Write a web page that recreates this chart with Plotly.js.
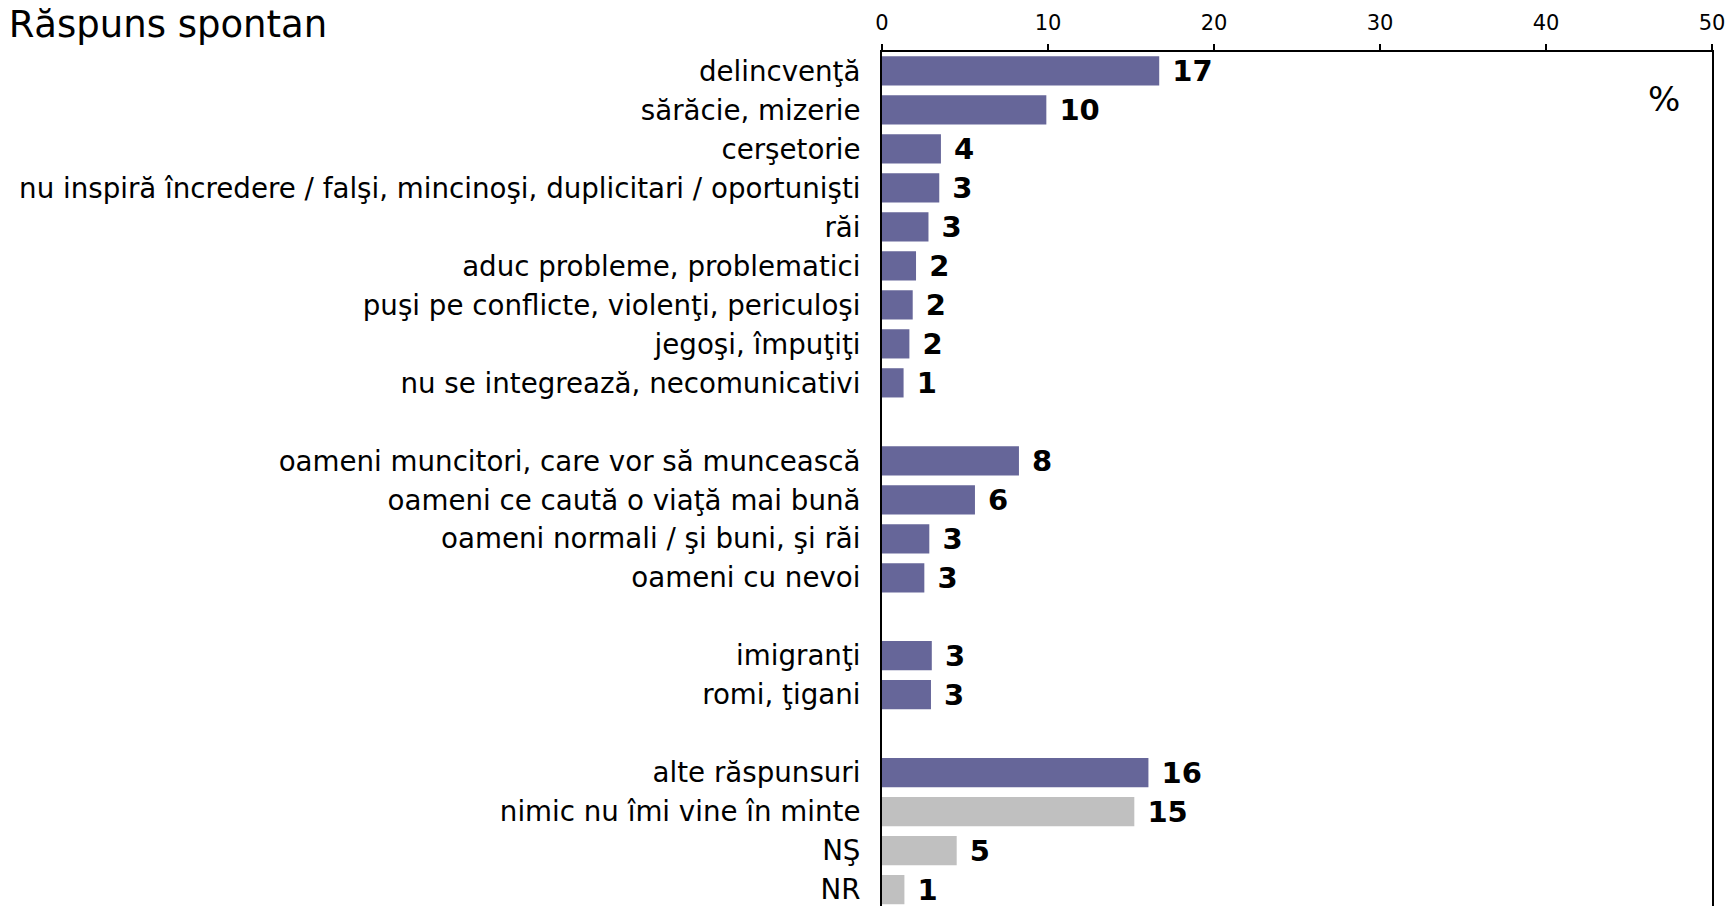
<!DOCTYPE html>
<html>
<head>
<meta charset="utf-8">
<script src="https://cdn.plot.ly/plotly-3.0.1.min.js"></script>
<style>html,body{margin:0;padding:0;background:#fff;}#chart{width:1730px;height:906px;}</style>
</head>
<body>
<div id="chart"></div>
<script>
const titleText = "Răspuns spontan";
const categories = [
  "delincvenţă",
  "sărăcie, mizerie",
  "cerşetorie",
  "nu inspiră încredere / falşi, mincinoşi, duplicitari / oportunişti",
  "răi",
  "aduc probleme, problematici",
  "puşi pe conflicte, violenţi, periculoşi",
  "jegoşi, împuţiţi",
  "nu se integrează, necomunicativi",
  "oameni muncitori, care vor să muncească",
  "oameni ce caută o viaţă mai bună",
  "oameni normali / şi buni, şi răi",
  "oameni cu nevoi",
  "imigranţi",
  "romi, ţigani",
  "alte răspunsuri",
  "nimic nu îmi vine în minte",
  "NŞ",
  "NR"
];
const values = [16.7, 9.9, 3.55, 3.45, 2.8, 2.05, 1.85, 1.65, 1.3, 8.25, 5.6, 2.85, 2.55, 3.0, 2.95, 16.05, 15.2, 4.5, 1.35];
const valueLabels = ["17","10","4","3","3","2","2","2","1","8","6","3","3","3","3","16","15","5","1"];
const groups = [0,0,0,0,0,0,0,0,0,1,1,1,1,2,2,3,3,3,3];
const grayCategories = ["nimic nu îmi vine în minte","NŞ","NR"];
const xTicks = [0,10,20,30,40,50];

// build category order with empty slots between groups
const order = [];
let gapN = 0;
categories.forEach((c, i) => {
  if (i > 0 && groups[i] !== groups[i-1]) { order.push("gap" + (++gapN)); }
  order.push(c);
});

const PURPLE = "#666699", GRAY = "#C0C0C0";
function sel(pred) {
  const y = [], x = [], t = [];
  categories.forEach((c, i) => { if (pred(c)) { y.push(c); x.push(values[i]); t.push(valueLabels[i]); } });
  return {y, x, t};
}
const main = sel(c => !grayCategories.includes(c));
const rest = sel(c => grayCategories.includes(c));

const common = {
  type: "bar", orientation: "h", width: 0.75,
  textposition: "outside", cliponaxis: false, constraintext: "none",
  texttemplate: "\u00a0%{text}",
  textfont: {family: "DejaVu Sans", size: 29, color: "#000", weight: "bold"},
  hoverinfo: "skip", showlegend: false
};
const traces = [
  Object.assign({}, common, {y: main.y, x: main.x, text: main.t, marker: {color: PURPLE}}),
  Object.assign({}, common, {y: rest.y, x: rest.x, text: rest.t, marker: {color: GRAY}})
];

const layout = {
  width: 1730, height: 906,
  paper_bgcolor: "#fff", plot_bgcolor: "#fff",
  margin: {l: 882, r: 18, t: 52, b: 0, pad: 0},
  barmode: "overlay",
  font: {family: "DejaVu Sans", color: "#000"},
  title: {text: titleText, font: {family: "DejaVu Sans", size: 37, color: "#000"},
          xref: "container", yref: "container", x: 0.005, xanchor: "left", y: 1 - 24/906, yanchor: "middle"},
  xaxis: {
    side: "top", range: [0, 50], tickvals: xTicks, ticktext: xTicks.map(String),
    showgrid: false, zeroline: false, showline: true, linecolor: "#000", linewidth: 2,
    ticks: "outside", ticklen: 6, tickwidth: 2, tickcolor: "#000", ticklabelstandoff: 6,
    tickfont: {family: "DejaVu Sans", size: 21, color: "#000"}, automargin: false, fixedrange: true
  },
  yaxis: {
    type: "category", categoryorder: "array", categoryarray: order,
    tickmode: "array", tickvals: categories, ticktext: categories,
    range: [21.42, -0.487], autorange: false,
    showgrid: false, zeroline: false, showline: true, mirror: true, linecolor: "#000", linewidth: 2,
    ticks: "", ticklabelstandoff: 14,
    tickfont: {family: "DejaVu Sans", size: 27.7, color: "#000"}, automargin: false, fixedrange: true
  },
  annotations: [{
    text: "%", xref: "paper", yref: "paper", x: 0.9418, y: 0.945, xanchor: "center", yanchor: "middle",
    showarrow: false, font: {family: "DejaVu Sans", size: 34, color: "#000"}
  }]
};
Plotly.newPlot("chart", traces, layout, {displayModeBar: false, staticPlot: true});
</script>
</body>
</html>
